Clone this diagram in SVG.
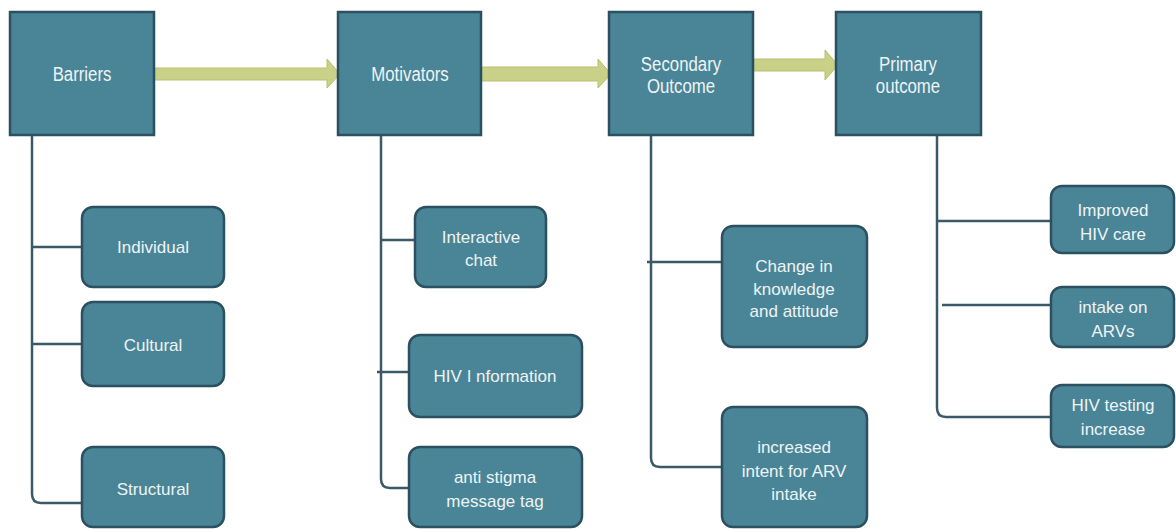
<svg xmlns="http://www.w3.org/2000/svg" width="1176" height="529" viewBox="0 0 1176 529">
  <defs>
    <style>
      .head { fill: #4a8597; stroke: #2b5060; stroke-width: 2.5; }
      .item { fill: #4a8597; stroke: #2b5060; stroke-width: 2.5; }
      .lbl { font-family: "Liberation Sans", Arial, sans-serif; font-size: 17px; fill: #eef4f5; text-anchor: middle; }
      .hd { font-size: 21px; }
      .tree { fill: none; stroke: #3b5a67; stroke-width: 2.5; }
      .flow { fill: #c9d087; stroke: #b9c16e; stroke-width: 1; }
    </style>
  </defs>
  <rect width="1176" height="529" fill="#ffffff"/>

  <!-- tree connectors -->
  <g id="connectors">
    <path class="tree" d="M32 135 V494 Q32 503 41 503 H82"/>
    <path class="tree" d="M32 247 H82"/>
    <path class="tree" d="M32 344 H82"/>
    <path class="tree" d="M381 135 V479 Q381 488 390 488 H409"/>
    <path class="tree" d="M381 240 H415"/>
    <path class="tree" d="M377 372 H409"/>
    <path class="tree" d="M651 135 V458 Q651 467 660 467 H722"/>
    <path class="tree" d="M647 262 H722"/>
    <path class="tree" d="M937 135 V408 Q937 417 946 417 H1051"/>
    <path class="tree" d="M937 221 H1051"/>
    <path class="tree" d="M942 305 H1051"/>
    <!-- flow arrows between stages -->
    <path class="flow" d="M154 68 H327 V59 L340 74 L327 88 V80 H154 Z"/>
    <path class="flow" d="M481 67 H598 V59 L611 74 L598 88 V81 H481 Z"/>
    <path class="flow" d="M753 59 H825 V50 L838 65 L825 80 V71 H753 Z"/>
  </g>

  <!-- stage headers (condensed lettering) -->
  <g id="barriers">
    <rect class="head" x="10" y="12" width="144" height="123"/>
    <text class="lbl hd" transform="translate(82 81) scale(0.8 1)">Barriers</text>
  </g>
  <g id="motivators">
    <rect class="head" x="338" y="12" width="143" height="123"/>
    <text class="lbl hd" transform="translate(410 81) scale(0.8 1)">Motivators</text>
  </g>
  <g id="secondary-outcome">
    <rect class="head" x="609" y="12" width="144" height="123"/>
    <text class="lbl hd" transform="translate(681 71) scale(0.8 1)">Secondary</text>
    <text class="lbl hd" transform="translate(681 93) scale(0.8 1)">Outcome</text>
  </g>
  <g id="primary-outcome">
    <rect class="head" x="836" y="12" width="145" height="123"/>
    <text class="lbl hd" transform="translate(908 71) scale(0.8 1)">Primary</text>
    <text class="lbl hd" transform="translate(908 93) scale(0.8 1)">outcome</text>
  </g>

  <!-- barriers -->
  <g id="individual">
    <rect class="item" x="82" y="207" width="142" height="80" rx="11"/>
    <text class="lbl" x="153" y="253">Individual</text>
  </g>
  <g id="cultural">
    <rect class="item" x="82" y="302" width="142" height="84" rx="11"/>
    <text class="lbl" x="153" y="351">Cultural</text>
  </g>
  <g id="structural">
    <rect class="item" x="82" y="447" width="142" height="80" rx="11"/>
    <text class="lbl" x="153" y="495">Structural</text>
  </g>

  <!-- motivators -->
  <g id="interactive-chat">
    <rect class="item" x="415" y="207" width="131" height="80" rx="11"/>
    <text class="lbl" x="481" y="243">Interactive</text>
    <text class="lbl" x="481" y="266">chat</text>
  </g>
  <g id="hiv-information">
    <rect class="item" x="409" y="335" width="173" height="82" rx="11"/>
    <text class="lbl" x="495" y="382">HIV I nformation</text>
  </g>
  <g id="anti-stigma">
    <rect class="item" x="409" y="447" width="173" height="80" rx="11"/>
    <text class="lbl" x="495" y="483">anti stigma</text>
    <text class="lbl" x="495" y="507">message tag</text>
  </g>

  <!-- secondary outcomes -->
  <g id="knowledge-attitude">
    <rect class="item" x="722" y="226" width="145" height="121" rx="11"/>
    <text class="lbl" x="794" y="272">Change in</text>
    <text class="lbl" x="794" y="295">knowledge</text>
    <text class="lbl" x="794" y="317">and attitude</text>
  </g>
  <g id="arv-intent">
    <rect class="item" x="722" y="407" width="145" height="120" rx="11"/>
    <text class="lbl" x="794" y="453">increased</text>
    <text class="lbl" x="794" y="477">intent for ARV</text>
    <text class="lbl" x="794" y="500">intake</text>
  </g>

  <!-- primary outcomes -->
  <g id="hiv-care">
    <rect class="item" x="1051" y="186" width="123" height="67" rx="11"/>
    <text class="lbl" x="1113" y="216">Improved</text>
    <text class="lbl" x="1113" y="240">HIV care</text>
  </g>
  <g id="arv-intake">
    <rect class="item" x="1051" y="287" width="123" height="60" rx="11"/>
    <text class="lbl" x="1113" y="313">intake on</text>
    <text class="lbl" x="1113" y="337">ARVs</text>
  </g>
  <g id="hiv-testing">
    <rect class="item" x="1051" y="385" width="123" height="62" rx="11"/>
    <text class="lbl" x="1113" y="411">HIV testing</text>
    <text class="lbl" x="1113" y="435">increase</text>
  </g>
</svg>
